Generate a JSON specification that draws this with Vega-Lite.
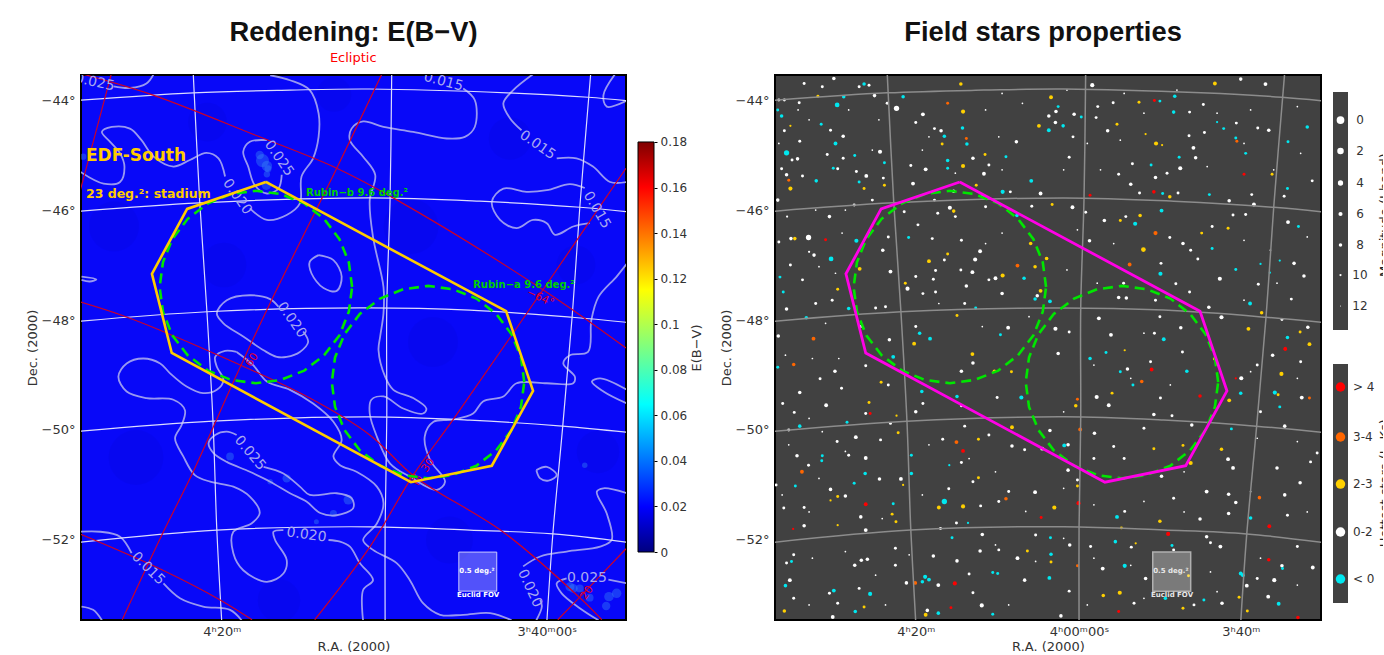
{"$schema":"https://vega.github.io/schema/vega-lite/v6.json","padding":{"left":25,"top":17,"right":0,"bottom":0},"bounds":"flush","spacing":12,"background":"white",
"config":{"font":"DejaVu Sans","axis":{"grid":false,"domain":false,"ticks":false,"labelFont":"DejaVu Sans","titleFont":"DejaVu Sans","labelFontSize":13,"titleFontSize":13,"titleFontWeight":"normal","labelColor":"#333","titleColor":"#333"},"title":{"font":"Liberation Sans","fontSize":27.3,"fontWeight":"bold","color":"#111","anchor":"middle"}},
"datasets":{
"grid":[
{"id":"d44","x":-0.1,"y":-44.01},{"id":"d44","x":2.04,"y":-43.87},{"id":"d44","x":3.8,"y":-43.82},{"id":"d44","x":5.25,"y":-43.8},{"id":"d44","x":7.75,"y":-43.87},{"id":"d44","x":9.22,"y":-43.95},{"id":"d44","x":10,"y":-44.02},
{"id":"d46","x":-0.1,"y":-46.03},{"id":"d46","x":2.16,"y":-45.87},{"id":"d46","x":5.25,"y":-45.78},{"id":"d46","x":7.25,"y":-45.84},{"id":"d46","x":9.07,"y":-45.95},{"id":"d46","x":10,"y":-46.04},
{"id":"d48","x":-0.1,"y":-48.03},{"id":"d48","x":2.29,"y":-47.85},{"id":"d48","x":5.07,"y":-47.78},{"id":"d48","x":7.07,"y":-47.82},{"id":"d48","x":8.93,"y":-47.95},{"id":"d48","x":10,"y":-48.05},
{"id":"d50","x":-0.1,"y":-50.03},{"id":"d50","x":2.4,"y":-49.84},{"id":"d50","x":5.25,"y":-49.76},{"id":"d50","x":7.07,"y":-49.82},{"id":"d50","x":8.75,"y":-49.93},{"id":"d50","x":10,"y":-50.05},
{"id":"d52","x":-0.1,"y":-52.05},{"id":"d52","x":2.47,"y":-51.82},{"id":"d52","x":5.25,"y":-51.76},{"id":"d52","x":7.07,"y":-51.82},{"id":"d52","x":8.58,"y":-51.89},{"id":"d52","x":10,"y":-52.05},
{"id":"r20","x":2.04,"y":-43.5},{"id":"r20","x":2.16,"y":-45.87},{"id":"r20","x":2.29,"y":-47.85},{"id":"r20","x":2.4,"y":-49.84},{"id":"r20","x":2.47,"y":-51.82},{"id":"r20","x":2.56,"y":-53.5},
{"id":"r00","x":5.65,"y":-43.5},{"id":"r00","x":5.62,"y":-45.8},{"id":"r00","x":5.56,"y":-47.78},{"id":"r00","x":5.56,"y":-49.78},{"id":"r00","x":5.53,"y":-51.76},{"id":"r00","x":5.53,"y":-53.5},
{"id":"r40","x":9.27,"y":-43.5},{"id":"r40","x":9.07,"y":-45.95},{"id":"r40","x":8.93,"y":-47.95},{"id":"r40","x":8.76,"y":-49.93},{"id":"r40","x":8.58,"y":-51.89},{"id":"r40","x":8.47,"y":-53.5}],
"ecl":[
{"id":"A","x":0.04,"y":-43.53},{"id":"A","x":1.31,"y":-43.91},{"id":"A","x":3.2,"y":-44.65},{"id":"A","x":4.65,"y":-45.24},{"id":"A","x":5.75,"y":-45.82},{"id":"A","x":8.4,"y":-47.45},{"id":"A","x":9.91,"y":-48.51},
{"id":"B","x":-0.02,"y":-47.67},{"id":"B","x":0.84,"y":-47.95},{"id":"B","x":2.29,"y":-48.55},{"id":"B","x":4.16,"y":-49.42},{"id":"B","x":5.25,"y":-50.09},{"id":"B","x":6.07,"y":-50.85},{"id":"B","x":7.67,"y":-51.85},{"id":"B","x":9.07,"y":-53.05},{"id":"B","x":9.47,"y":-53.45},
{"id":"C","x":-0.02,"y":-51.89},{"id":"C","x":1.49,"y":-52.55},{"id":"C","x":2.53,"y":-53.09},{"id":"C","x":3.11,"y":-53.45},
{"id":"D","x":-0.02,"y":-45.67},{"id":"D","x":0.55,"y":-43.53},
{"id":"E","x":5.47,"y":-43.53},{"id":"E","x":4.65,"y":-45.24},{"id":"E","x":3.44,"y":-47.69},{"id":"E","x":2.76,"y":-49.15},{"id":"E","x":2.04,"y":-50.76},{"id":"E","x":1.49,"y":-51.87},{"id":"E","x":0.75,"y":-53.45},
{"id":"F","x":9.91,"y":-45.24},{"id":"F","x":8.4,"y":-47.45},{"id":"F","x":6.76,"y":-49.82},{"id":"F","x":6.04,"y":-50.82},{"id":"F","x":5.25,"y":-52.13},{"id":"F","x":4.25,"y":-53.45},
{"id":"G","x":9.91,"y":-52.16},{"id":"G","x":9.07,"y":-53.04},{"id":"G","x":8.67,"y":-53.45}],
"stadium":[{"x":3.36,"y":-45.49},{"x":1.93,"y":-45.98},{"x":1.29,"y":-47.16},{"x":1.65,"y":-48.6},{"x":6.0,"y":-50.95},{"x":7.47,"y":-50.65},{"x":8.22,"y":-49.29},{"x":7.73,"y":-47.84},{"x":3.36,"y":-45.49}],
"rubin":[
{"id":"b","x":4.93,"y":-47.4},{"id":"b","x":4.87,"y":-46.95},{"id":"b","x":4.7,"y":-46.53},{"id":"b","x":4.42,"y":-46.16},{"id":"b","x":4.06,"y":-45.88},{"id":"b","x":3.63,"y":-45.71},{"id":"b","x":3.18,"y":-45.65},{"id":"b","x":2.73,"y":-45.71},{"id":"b","x":2.31,"y":-45.88},{"id":"b","x":1.94,"y":-46.16},{"id":"b","x":1.66,"y":-46.53},{"id":"b","x":1.49,"y":-46.95},{"id":"b","x":1.43,"y":-47.4},{"id":"b","x":1.49,"y":-47.85},{"id":"b","x":1.66,"y":-48.28},{"id":"b","x":1.94,"y":-48.64},{"id":"b","x":2.31,"y":-48.92},{"id":"b","x":2.73,"y":-49.09},{"id":"b","x":3.18,"y":-49.15},{"id":"b","x":3.63,"y":-49.09},{"id":"b","x":4.06,"y":-48.92},{"id":"b","x":4.42,"y":-48.64},{"id":"b","x":4.7,"y":-48.28},{"id":"b","x":4.87,"y":-47.85},{"id":"b","x":4.93,"y":-47.4},
{"id":"a","x":8.06,"y":-49.13},{"id":"a","x":8.0,"y":-48.68},{"id":"a","x":7.83,"y":-48.26},{"id":"a","x":7.55,"y":-47.89},{"id":"a","x":7.19,"y":-47.61},{"id":"a","x":6.76,"y":-47.44},{"id":"a","x":6.31,"y":-47.38},{"id":"a","x":5.86,"y":-47.44},{"id":"a","x":5.44,"y":-47.61},{"id":"a","x":5.07,"y":-47.89},{"id":"a","x":4.79,"y":-48.26},{"id":"a","x":4.62,"y":-48.68},{"id":"a","x":4.56,"y":-49.13},{"id":"a","x":4.62,"y":-49.58},{"id":"a","x":4.79,"y":-50.0},{"id":"a","x":5.07,"y":-50.37},{"id":"a","x":5.44,"y":-50.65},{"id":"a","x":5.86,"y":-50.82},{"id":"a","x":6.31,"y":-50.88},{"id":"a","x":6.76,"y":-50.82},{"id":"a","x":7.19,"y":-50.65},{"id":"a","x":7.55,"y":-50.37},{"id":"a","x":7.83,"y":-50.0},{"id":"a","x":8.0,"y":-49.58},{"id":"a","x":8.06,"y":-49.13}],
"contour":[
{"id":1,"x":0.59,"y":-43.75},{"id":1,"x":0.89,"y":-43.78},{"id":1,"x":1.19,"y":-43.7},{"id":1,"x":1.32,"y":-43.53},
{"id":2,"x":-0.02,"y":-45.3},{"id":2,"x":0.41,"y":-45.52},{"id":2,"x":0.71,"y":-45.49},{"id":2,"x":0.79,"y":-45.21},{"id":2,"x":0.71,"y":-44.97},{"id":2,"x":0.53,"y":-44.76},{"id":2,"x":0.38,"y":-44.58},{"id":2,"x":0.56,"y":-44.49},{"id":2,"x":0.89,"y":-44.52},{"id":2,"x":1.1,"y":-44.73},{"id":2,"x":1.32,"y":-45.03},{"id":2,"x":1.68,"y":-45.21},{"id":2,"x":1.98,"y":-45.09},{"id":2,"x":2.28,"y":-44.96},{"id":2,"x":2.5,"y":-45.06},{"id":2,"x":2.62,"y":-45.39},
{"id":3,"x":3.07,"y":-45.97},{"id":3,"x":3.38,"y":-46.18},{"id":3,"x":3.74,"y":-46.09},{"id":3,"x":3.98,"y":-45.88},{"id":3,"x":4.01,"y":-45.39},{"id":3,"x":4.22,"y":-45.06},{"id":3,"x":4.32,"y":-44.67},{"id":3,"x":4.32,"y":-44.24},{"id":3,"x":4.16,"y":-43.82},{"id":3,"x":3.8,"y":-43.64},{"id":3,"x":3.44,"y":-43.55},
{"id":4,"x":3.38,"y":-44.73},{"id":4,"x":3.07,"y":-44.76},{"id":4,"x":2.95,"y":-44.94},{"id":4,"x":3.04,"y":-45.21},{"id":4,"x":3.16,"y":-45.55},{"id":4,"x":3.38,"y":-45.7},{"id":4,"x":3.59,"y":-45.61},{"id":4,"x":3.65,"y":-45.36},
{"id":5,"x":0.01,"y":-47.21},{"id":5,"x":0.28,"y":-47.26},{"id":5,"x":0.16,"y":-47.3},{"id":5,"x":0.01,"y":-47.27},
{"id":6,"x":4.32,"y":-46.82},{"id":6,"x":4.16,"y":-46.94},{"id":6,"x":4.19,"y":-47.15},{"id":6,"x":4.41,"y":-47.42},{"id":6,"x":4.65,"y":-47.47},{"id":6,"x":4.74,"y":-47.21},{"id":6,"x":4.59,"y":-46.91},{"id":6,"x":4.32,"y":-46.82},
{"id":7,"x":3.59,"y":-47.76},{"id":7,"x":3.44,"y":-47.62},{"id":7,"x":3.07,"y":-47.55},{"id":7,"x":2.65,"y":-47.64},{"id":7,"x":2.47,"y":-47.88},{"id":7,"x":2.59,"y":-48.06},{"id":7,"x":2.95,"y":-48.3},{"id":7,"x":3.32,"y":-48.55},{"id":7,"x":3.56,"y":-48.67},{"id":7,"x":3.74,"y":-48.67},{"id":7,"x":3.98,"y":-48.58},{"id":7,"x":4.13,"y":-48.4},{"id":7,"x":4.04,"y":-48.21},
{"id":8,"x":2.83,"y":-48.58},{"id":8,"x":2.62,"y":-48.56},{"id":8,"x":2.44,"y":-48.67},{"id":8,"x":2.47,"y":-48.85},{"id":8,"x":2.59,"y":-49.09},{"id":8,"x":2.47,"y":-49.27},{"id":8,"x":2.22,"y":-49.33},{"id":8,"x":1.92,"y":-49.21},{"id":8,"x":1.62,"y":-48.97},{"id":8,"x":1.44,"y":-48.79},{"id":8,"x":1.13,"y":-48.7},{"id":8,"x":0.83,"y":-48.79},{"id":8,"x":0.68,"y":-49.03},{"id":8,"x":0.83,"y":-49.3},{"id":8,"x":1.19,"y":-49.42},{"id":8,"x":1.68,"y":-49.45},{"id":8,"x":1.89,"y":-49.64},{"id":8,"x":1.83,"y":-49.91},{"id":8,"x":1.71,"y":-50.15},{"id":8,"x":1.86,"y":-50.48},{"id":8,"x":2.07,"y":-50.82},{"id":8,"x":2.35,"y":-50.94},{"id":8,"x":2.77,"y":-51.03},{"id":8,"x":3.07,"y":-51.21},{"id":8,"x":3.25,"y":-51.51},{"id":8,"x":3.1,"y":-51.7},{"id":8,"x":2.77,"y":-51.85},{"id":8,"x":2.77,"y":-52.24},{"id":8,"x":2.95,"y":-52.55},{"id":8,"x":3.38,"y":-52.76},{"id":8,"x":3.68,"y":-52.61},{"id":8,"x":3.74,"y":-52.36},{"id":8,"x":3.53,"y":-52.0},{"id":8,"x":3.5,"y":-51.85},{"id":8,"x":3.68,"y":-51.82},
{"id":9,"x":4.5,"y":-52.0},{"id":9,"x":4.71,"y":-52.03},{"id":9,"x":4.89,"y":-52.12},{"id":9,"x":5.07,"y":-52.42},{"id":9,"x":5.31,"y":-52.73},{"id":9,"x":5.13,"y":-52.91},{"id":9,"x":5.13,"y":-53.46},
{"id":10,"x":2.83,"y":-50.09},{"id":10,"x":2.65,"y":-50.03},{"id":10,"x":2.44,"y":-50.09},{"id":10,"x":2.32,"y":-50.24},{"id":10,"x":2.41,"y":-50.42},{"id":10,"x":2.65,"y":-50.58},{"id":10,"x":3.07,"y":-50.76},{"id":10,"x":3.44,"y":-50.94},{"id":10,"x":3.8,"y":-51.15},{"id":10,"x":4.1,"y":-51.3},{"id":10,"x":4.35,"y":-51.51},{"id":10,"x":4.65,"y":-51.55},{"id":10,"x":4.95,"y":-51.42},{"id":10,"x":4.92,"y":-51.24},{"id":10,"x":4.65,"y":-51.15},{"id":10,"x":4.16,"y":-51.18},{"id":10,"x":3.98,"y":-51.03},{"id":10,"x":3.68,"y":-50.79},{"id":10,"x":3.32,"y":-50.67},
{"id":11,"x":2.83,"y":-48.58},{"id":11,"x":3.13,"y":-48.82},{"id":11,"x":3.38,"y":-49.12},{"id":11,"x":3.8,"y":-49.27},{"id":11,"x":4.22,"y":-49.52},{"id":11,"x":4.59,"y":-49.85},{"id":11,"x":4.74,"y":-50.18},{"id":11,"x":4.59,"y":-50.48},{"id":11,"x":4.71,"y":-50.64},{"id":11,"x":5.01,"y":-50.76},{"id":11,"x":5.38,"y":-51.03},{"id":11,"x":5.5,"y":-51.33},{"id":11,"x":5.38,"y":-51.7},{"id":11,"x":5.13,"y":-52.0},{"id":11,"x":5.31,"y":-52.18},{"id":11,"x":5.74,"y":-52.42},{"id":11,"x":5.98,"y":-52.73},{"id":11,"x":6.22,"y":-53.15},{"id":11,"x":6.53,"y":-53.36},{"id":11,"x":6.95,"y":-53.36},{"id":11,"x":7.44,"y":-53.33},{"id":11,"x":7.83,"y":-53.46},
{"id":13,"x":-0.02,"y":-51.85},{"id":13,"x":0.35,"y":-51.85},{"id":13,"x":0.71,"y":-51.94},{"id":13,"x":0.92,"y":-52.24},
{"id":14,"x":1.5,"y":-52.79},{"id":14,"x":1.8,"y":-53.06},{"id":14,"x":2.22,"y":-53.21},{"id":14,"x":2.71,"y":-53.27},{"id":14,"x":2.92,"y":-53.46},
{"id":15,"x":0.01,"y":-53.21},{"id":15,"x":0.22,"y":-53.27},{"id":15,"x":0.38,"y":-53.46},
{"id":18,"x":6.95,"y":-43.79},{"id":18,"x":7.16,"y":-44.0},{"id":18,"x":7.16,"y":-44.49},{"id":18,"x":6.98,"y":-44.67},{"id":18,"x":6.65,"y":-44.7},{"id":18,"x":6.04,"y":-44.58},{"id":18,"x":5.5,"y":-44.49},{"id":18,"x":5.13,"y":-44.39},{"id":18,"x":4.92,"y":-44.52},{"id":18,"x":4.89,"y":-44.73},{"id":18,"x":5.13,"y":-45.03},{"id":18,"x":5.35,"y":-45.36},{"id":18,"x":5.25,"y":-45.82},{"id":18,"x":5.31,"y":-46.49},{"id":18,"x":5.5,"y":-47.4},{"id":18,"x":5.5,"y":-47.88},{"id":18,"x":5.44,"y":-48.3},{"id":18,"x":5.41,"y":-48.55},{"id":18,"x":5.53,"y":-49.03},{"id":18,"x":5.68,"y":-49.27},{"id":18,"x":6.04,"y":-49.42},{"id":18,"x":6.28,"y":-49.61},{"id":18,"x":6.22,"y":-49.7},{"id":18,"x":5.86,"y":-49.61},{"id":18,"x":5.5,"y":-49.39},{"id":18,"x":5.28,"y":-49.45},{"id":18,"x":5.25,"y":-49.7},{"id":18,"x":5.38,"y":-50.12},{"id":18,"x":5.62,"y":-50.61},{"id":18,"x":5.98,"y":-50.85},{"id":18,"x":6.47,"y":-51.09},{"id":18,"x":6.62,"y":-50.94},{"id":18,"x":6.35,"y":-50.55},{"id":18,"x":6.25,"y":-50.12},{"id":18,"x":6.41,"y":-49.85},{"id":18,"x":6.77,"y":-49.81},{"id":18,"x":7.13,"y":-49.7},{"id":18,"x":7.31,"y":-49.48},{"id":18,"x":7.68,"y":-49.39},{"id":18,"x":7.92,"y":-49.15},{"id":18,"x":8.47,"y":-49.15},{"id":18,"x":8.95,"y":-49.15},{"id":18,"x":8.98,"y":-49.03},{"id":18,"x":8.77,"y":-48.79},{"id":18,"x":8.89,"y":-48.64},{"id":18,"x":9.22,"y":-48.58},{"id":18,"x":9.28,"y":-48.0},{"id":18,"x":9.41,"y":-47.58},{"id":18,"x":9.74,"y":-47.21},{"id":18,"x":9.93,"y":-46.97},
{"id":19,"x":8.22,"y":-43.53},{"id":19,"x":7.86,"y":-43.82},{"id":19,"x":7.68,"y":-44.06},{"id":19,"x":7.8,"y":-44.33},{"id":19,"x":8.01,"y":-44.55},
{"id":190,"x":8.65,"y":-45.06},{"id":190,"x":9.01,"y":-45.06},{"id":190,"x":9.31,"y":-45.21},{"id":190,"x":9.62,"y":-45.49},{"id":190,"x":9.93,"y":-45.49},
{"id":20,"x":9.71,"y":-43.53},{"id":20,"x":9.5,"y":-43.91},{"id":20,"x":9.56,"y":-44.12},{"id":20,"x":9.93,"y":-44.01},
{"id":21,"x":9.16,"y":-45.6},{"id":21,"x":8.89,"y":-45.53},{"id":21,"x":8.47,"y":-45.64},{"id":21,"x":8.1,"y":-45.67},{"id":21,"x":7.68,"y":-45.61},{"id":21,"x":7.47,"y":-45.85},{"id":21,"x":7.62,"y":-46.18},{"id":21,"x":7.92,"y":-46.33},{"id":21,"x":8.22,"y":-46.18},{"id":21,"x":8.47,"y":-46.24},{"id":21,"x":8.62,"y":-46.45},{"id":21,"x":8.95,"y":-46.3},{"id":21,"x":9.25,"y":-46.24},
{"id":22,"x":8.28,"y":-50.73},{"id":22,"x":8.47,"y":-50.67},{"id":22,"x":8.65,"y":-50.82},{"id":22,"x":8.5,"y":-50.92},{"id":22,"x":8.35,"y":-50.88},{"id":22,"x":8.28,"y":-50.73},
{"id":23,"x":9.93,"y":-49.27},{"id":23,"x":9.44,"y":-49.06},{"id":23,"x":9.29,"y":-49.12},{"id":23,"x":9.5,"y":-49.3},{"id":23,"x":9.93,"y":-49.52},
{"id":24,"x":9.93,"y":-51.15},{"id":24,"x":9.5,"y":-51.06},{"id":24,"x":9.38,"y":-51.12},{"id":24,"x":9.56,"y":-51.52},{"id":24,"x":9.65,"y":-52.0},{"id":24,"x":9.44,"y":-52.12},{"id":24,"x":8.83,"y":-52.21},{"id":24,"x":8.35,"y":-52.3},{"id":24,"x":8.04,"y":-52.48},
{"id":25,"x":8.35,"y":-53.09},{"id":25,"x":8.38,"y":-53.21},{"id":25,"x":8.28,"y":-53.46},
{"id":26,"x":8.83,"y":-52.7},{"id":26,"x":8.65,"y":-52.79},{"id":26,"x":8.74,"y":-52.97},{"id":26,"x":9.07,"y":-53.24},{"id":26,"x":9.41,"y":-53.46},
{"id":27,"x":9.59,"y":-52.72},{"id":27,"x":9.93,"y":-52.79}],
"clabels":[
{"x":0.25,"y":-43.68,"t":"0.025","a":12},{"x":3.6,"y":-45.06,"t":"0.025","a":55},{"x":2.84,"y":-45.76,"t":"0.020","a":55},{"x":3.83,"y":-48.0,"t":"0.020","a":55},{"x":6.59,"y":-43.67,"t":"0.015","a":15},{"x":8.3,"y":-44.82,"t":"0.015","a":35},{"x":9.38,"y":-46.0,"t":"0.015","a":60},{"x":3.07,"y":-50.42,"t":"0.025","a":50},{"x":4.1,"y":-51.91,"t":"0.020","a":8},{"x":1.22,"y":-52.52,"t":"0.015","a":45},{"x":8.16,"y":-52.88,"t":"0.020","a":65},{"x":9.2,"y":-52.7,"t":"0.025","a":0}],
"dark":[{"x":0.6,"y":-46.3,"s":2500},{"x":1.0,"y":-50.5,"s":3000},{"x":2.3,"y":-44.4,"s":1500},{"x":2.6,"y":-47.0,"s":2000},{"x":6.0,"y":-46.3,"s":3000},{"x":6.4,"y":-48.4,"s":2500},{"x":7.8,"y":-44.7,"s":1800},{"x":6.7,"y":-52.0,"s":2200},{"x":3.6,"y":-53.1,"s":1800},{"x":9.4,"y":-50.4,"s":1800},{"x":9.0,"y":-47.0,"s":1500},{"x":4.6,"y":-43.9,"s":1200}],
"dust":[{"x":3.3,"y":-45.1,"s":170},{"x":3.38,"y":-45.2,"s":110},{"x":3.25,"y":-45.0,"s":70},{"x":3.37,"y":-45.55,"s":90},{"x":3.4,"y":-45.25,"s":50},{"x":3.38,"y":-45.35,"s":40},{"x":2.71,"y":-50.48,"s":60},{"x":3.74,"y":-50.88,"s":70},{"x":3.44,"y":-50.94,"s":30},{"x":4.86,"y":-51.27,"s":90},{"x":4.59,"y":-51.52,"s":50},{"x":4.28,"y":-51.67,"s":25},{"x":9.16,"y":-50.64,"s":30},{"x":8.89,"y":-52.85,"s":80},{"x":8.95,"y":-52.88,"s":80},{"x":9.07,"y":-52.88,"s":60},{"x":9.25,"y":-53.05,"s":60},{"x":9.6,"y":-53.03,"s":90},{"x":9.74,"y":-52.97,"s":90},{"x":9.55,"y":-53.2,"s":70},{"x":0.04,"y":-45.03,"s":40}],
"stars":[
{"x":1.13,"y":-44.09,"m":5,"c":0},{"x":0.21,"y":-44.96,"m":4,"c":0},{"x":1.1,"y":-44.79,"m":7,"c":0},{"x":1.02,"y":-46.89,"m":5,"c":0},{"x":1.48,"y":-46.56,"m":6,"c":0},{"x":4.14,"y":-45.67,"m":6,"c":0},{"x":4.66,"y":-45.47,"m":7,"c":0},{"x":3.14,"y":-45.1,"m":8,"c":0},{"x":3.41,"y":-44.51,"m":8,"c":0},{"x":3.08,"y":-44.66,"m":8,"c":0},{"x":3.49,"y":-44.8,"m":8,"c":0},{"x":1.62,"y":-43.71,"m":8,"c":0},{"x":1.25,"y":-43.94,"m":8,"c":0},{"x":2.33,"y":-43.94,"m":8,"c":0},{"x":0.12,"y":-44.29,"m":8,"c":0},{"x":0.84,"y":-44.44,"m":9,"c":0},{"x":0.75,"y":-45.47,"m":8,"c":0},{"x":1.99,"y":-45.14,"m":9,"c":0},{"x":1.45,"y":-45.01,"m":9,"c":0},{"x":1.53,"y":-45.49,"m":9,"c":0},{"x":1.06,"y":-45.24,"m":9,"c":0},{"x":0.15,"y":-47.49,"m":9,"c":0},{"x":1.34,"y":-47.79,"m":8,"c":0},{"x":0.57,"y":-47.96,"m":8,"c":0},{"x":2.82,"y":-48.34,"m":7,"c":0},{"x":2.63,"y":-48.24,"m":8,"c":0},{"x":4.1,"y":-48.27,"m":9,"c":0},{"x":3.65,"y":-47.78,"m":9,"c":0},{"x":4.53,"y":-47.24,"m":8,"c":0},{"x":4.4,"y":-46.1,"m":8,"c":0},{"x":2.43,"y":-46.5,"m":9,"c":0},{"x":4.73,"y":-47.62,"m":8,"c":0},{"x":0.05,"y":-44.18,"m":9,"c":0},{"x":4.2,"y":-45.03,"m":9,"c":0},{"x":0.09,"y":-47.22,"m":9,"c":0},{"x":3.14,"y":-45.24,"m":9,"c":0},
{"x":3.42,"y":-44.21,"m":6,"c":2},{"x":3.38,"y":-43.71,"m":8,"c":2},{"x":4.8,"y":-44.47,"m":7,"c":2},{"x":0.28,"y":-45.61,"m":6,"c":2},{"x":3.42,"y":-45.2,"m":6,"c":2},{"x":1.99,"y":-45.55,"m":9,"c":2},{"x":1.62,"y":-45.61,"m":9,"c":2},{"x":0.28,"y":-44.47,"m":10,"c":2},{"x":3.04,"y":-44.8,"m":9,"c":2},{"x":0.78,"y":-43.93,"m":9,"c":2},{"x":3.66,"y":-45.55,"m":9,"c":2},{"x":3.25,"y":-46.02,"m":8,"c":2},{"x":0.36,"y":-46.52,"m":8,"c":2},{"x":2.8,"y":-46.93,"m":7,"c":2},{"x":1.54,"y":-47.07,"m":7,"c":2},{"x":3.14,"y":-46.8,"m":9,"c":2},{"x":4.14,"y":-47.19,"m":6,"c":2},{"x":4.83,"y":-47.47,"m":7,"c":2},{"x":4.65,"y":-46.61,"m":8,"c":2},{"x":4.73,"y":-47.03,"m":8,"c":2},{"x":1.14,"y":-47.44,"m":9,"c":2},{"x":2.37,"y":-47.33,"m":9,"c":2},{"x":3.31,"y":-47.92,"m":9,"c":2},{"x":2.53,"y":-48.43,"m":7,"c":2},{"x":4.94,"y":-46.88,"m":8,"c":2},{"x":3.82,"y":-44.99,"m":9,"c":2},
{"x":3.14,"y":-44.06,"m":9,"c":3},{"x":3.48,"y":-44.7,"m":9,"c":3},{"x":0.25,"y":-45.46,"m":9,"c":3},{"x":4.41,"y":-47.01,"m":7,"c":3},{"x":0.7,"y":-48.34,"m":7,"c":3},{"x":0.92,"y":-46.54,"m":9,"c":4},{"x":1.77,"y":-46.29,"m":9,"c":4},
{"x":2.21,"y":-44.15,"m":4,"c":1},{"x":1.91,"y":-44.94,"m":6,"c":1},{"x":0.61,"y":-46.5,"m":4,"c":1},{"x":2.51,"y":-45.52,"m":7,"c":1},{"x":3.18,"y":-45.96,"m":6,"c":1},{"x":3.73,"y":-46.75,"m":7,"c":1},{"x":3.64,"y":-46.9,"m":6,"c":1},{"x":2.41,"y":-47.43,"m":6,"c":1},{"x":3.59,"y":-47.13,"m":7,"c":1},{"x":4.01,"y":-47.24,"m":7,"c":1},{"x":2.1,"y":-47.12,"m":7,"c":1},{"x":1.07,"y":-43.61,"m":8,"c":1},{"x":1.81,"y":-43.92,"m":8,"c":1},{"x":2.69,"y":-44.26,"m":7,"c":1},{"x":3.02,"y":-44.56,"m":8,"c":1},{"x":1.24,"y":-44.66,"m":8,"c":1},{"x":0.41,"y":-45.07,"m":8,"c":1},{"x":0.31,"y":-45.09,"m":9,"c":1},{"x":0.21,"y":-45.36,"m":8,"c":1},{"x":0.05,"y":-45.82,"m":8,"c":1},{"x":1.66,"y":-45.38,"m":7,"c":1},{"x":2.74,"y":-45.26,"m":7,"c":1},{"x":3.8,"y":-45.34,"m":7,"c":1},{"x":3.6,"y":-45.06,"m":8,"c":1},{"x":4.39,"y":-44.76,"m":8,"c":1},{"x":4.83,"y":-45.7,"m":7,"c":1},{"x":0.99,"y":-46.12,"m":8,"c":1},{"x":0.71,"y":-46.82,"m":8,"c":1},{"x":0.29,"y":-46.52,"m":8,"c":1},{"x":0.21,"y":-47.8,"m":8,"c":1},{"x":0.06,"y":-48.29,"m":8,"c":1},{"x":1.96,"y":-46.73,"m":8,"c":1},{"x":3.48,"y":-47.38,"m":8,"c":1},{"x":4.13,"y":-47.52,"m":8,"c":1},{"x":4.24,"y":-48.14,"m":7,"c":1},{"x":4.77,"y":-47.56,"m":8,"c":1},{"x":2.08,"y":-48.36,"m":8,"c":1},{"x":0.07,"y":-44.0,"m":9,"c":1},{"x":0.17,"y":-44.0,"m":9,"c":1},{"x":0.44,"y":-44.05,"m":9,"c":1},{"x":0.53,"y":-43.7,"m":9,"c":1},{"x":0.86,"y":-43.76,"m":9,"c":1},{"x":1.53,"y":-43.76,"m":9,"c":1},{"x":1.71,"y":-43.73,"m":9,"c":1},{"x":2.04,"y":-44.06,"m":9,"c":1},{"x":1.01,"y":-44.55,"m":9,"c":1},{"x":0.45,"y":-44.75,"m":9,"c":1},{"x":0.17,"y":-44.56,"m":9,"c":1},{"x":0.95,"y":-44.99,"m":9,"c":1},{"x":1.24,"y":-45.06,"m":9,"c":1},{"x":1.48,"y":-45.3,"m":9,"c":1},{"x":1.14,"y":-45.25,"m":9,"c":1},{"x":0.12,"y":-45.25,"m":9,"c":1},{"x":0.5,"y":-45.38,"m":9,"c":1},{"x":1.97,"y":-45.42,"m":9,"c":1},{"x":2.47,"y":-45.19,"m":9,"c":1},{"x":2.9,"y":-44.52,"m":9,"c":1},{"x":3.89,"y":-45.18,"m":9,"c":1},{"x":2.56,"y":-44.41,"m":9,"c":1},{"x":3.25,"y":-45.66,"m":8,"c":1},{"x":2.9,"y":-45.82,"m":9,"c":1},{"x":1.77,"y":-45.82,"m":9,"c":1},{"x":1.44,"y":-45.91,"m":9,"c":1},{"x":4.67,"y":-45.93,"m":9,"c":1},{"x":3.77,"y":-45.76,"m":9,"c":1},{"x":4.28,"y":-45.67,"m":9,"c":1},{"x":3.83,"y":-45.94,"m":9,"c":1},{"x":2.96,"y":-46.06,"m":9,"c":1},{"x":2.6,"y":-46.27,"m":9,"c":1},{"x":2.35,"y":-46.03,"m":9,"c":1},{"x":2.06,"y":-46.49,"m":9,"c":1},{"x":1.7,"y":-46.42,"m":9,"c":1},{"x":3.28,"y":-46.12,"m":9,"c":1},{"x":3.39,"y":-46.55,"m":9,"c":1},{"x":2.86,"y":-46.52,"m":9,"c":1},{"x":3.08,"y":-46.91,"m":9,"c":1},{"x":3.38,"y":-47.09,"m":9,"c":1},{"x":3.89,"y":-47.27,"m":9,"c":1},{"x":2.92,"y":-47.1,"m":9,"c":1},{"x":2.88,"y":-47.26,"m":9,"c":1},{"x":2.56,"y":-47.21,"m":9,"c":1},{"x":2.69,"y":-47.52,"m":9,"c":1},{"x":2.92,"y":-47.49,"m":9,"c":1},{"x":3.45,"y":-47.7,"m":9,"c":1},{"x":2.56,"y":-48.12,"m":9,"c":1},{"x":2.01,"y":-47.76,"m":9,"c":1},{"x":1.83,"y":-47.78,"m":9,"c":1},{"x":1.56,"y":-48.12,"m":9,"c":1},{"x":1.04,"y":-47.64,"m":9,"c":1},{"x":0.74,"y":-47.7,"m":9,"c":1},{"x":0.5,"y":-47.27,"m":9,"c":1},{"x":0.28,"y":-47.0,"m":9,"c":1},{"x":0.07,"y":-46.58,"m":9,"c":1},{"x":0.22,"y":-46.12,"m":10,"c":1},{"x":0.62,"y":-46.76,"m":10,"c":1},
{"x":5.77,"y":-43.73,"m":6,"c":1},{"x":8.92,"y":-43.71,"m":7,"c":1},{"x":8.47,"y":-43.62,"m":8,"c":1},{"x":5.11,"y":-44.21,"m":8,"c":1},{"x":4.98,"y":-44.29,"m":8,"c":1},{"x":5.44,"y":-44.26,"m":8,"c":1},{"x":5.1,"y":-44.41,"m":8,"c":1},{"x":5.87,"y":-44.12,"m":9,"c":1},{"x":6.15,"y":-44.05,"m":9,"c":1},{"x":5.84,"y":-44.32,"m":9,"c":1},{"x":6.05,"y":-44.56,"m":8,"c":1},{"x":5.42,"y":-44.67,"m":9,"c":1},{"x":7.79,"y":-44.08,"m":9,"c":1},{"x":7.54,"y":-44.22,"m":9,"c":1},{"x":8.39,"y":-44.42,"m":9,"c":1},{"x":8.78,"y":-44.51,"m":9,"c":1},{"x":8.98,"y":-44.55,"m":8,"c":1},{"x":7.53,"y":-44.65,"m":9,"c":1},{"x":7.81,"y":-44.59,"m":9,"c":1},{"x":7.61,"y":-44.87,"m":7,"c":1},{"x":7.37,"y":-45.24,"m":6,"c":1},{"x":7.65,"y":-45.05,"m":8,"c":1},{"x":6.5,"y":-45.16,"m":9,"c":1},{"x":6.92,"y":-45.41,"m":8,"c":1},{"x":6.47,"y":-45.53,"m":8,"c":1},{"x":6.25,"y":-45.35,"m":9,"c":1},{"x":7.33,"y":-45.69,"m":9,"c":1},{"x":8.26,"y":-45.83,"m":8,"c":1},{"x":8.71,"y":-45.9,"m":7,"c":1},{"x":8.67,"y":-45.72,"m":9,"c":1},{"x":5.41,"y":-45.95,"m":7,"c":1},{"x":5.99,"y":-46.19,"m":8,"c":1},{"x":6.38,"y":-46.12,"m":9,"c":1},{"x":5.72,"y":-46.56,"m":8,"c":1},{"x":7.42,"y":-46.61,"m":8,"c":1},{"x":7.18,"y":-46.5,"m":9,"c":1},{"x":7.69,"y":-46.89,"m":9,"c":1},{"x":9.33,"y":-46.22,"m":7,"c":1},{"x":9.44,"y":-46.97,"m":8,"c":1},{"x":9.62,"y":-47.2,"m":8,"c":1},{"x":9.77,"y":-45.47,"m":9,"c":1},{"x":9.26,"y":-45.75,"m":9,"c":1},{"x":8.09,"y":-47.25,"m":6,"c":1},{"x":7.29,"y":-47.34,"m":9,"c":1},{"x":6.25,"y":-47.59,"m":8,"c":1},{"x":6.39,"y":-47.6,"m":8,"c":1},{"x":6.34,"y":-47.33,"m":9,"c":1},{"x":7.54,"y":-47.49,"m":9,"c":1},{"x":7.89,"y":-47.77,"m":8,"c":1},{"x":8.12,"y":-47.95,"m":6,"c":1},{"x":5.89,"y":-47.97,"m":7,"c":1},{"x":5.1,"y":-48.16,"m":6,"c":1},{"x":6.11,"y":-48.27,"m":7,"c":1},{"x":7.0,"y":-47.94,"m":9,"c":1},{"x":7.38,"y":-48.14,"m":8,"c":1},{"x":9.69,"y":-48.13,"m":8,"c":1},{"x":5.35,"y":-48.22,"m":9,"c":1},{"x":6.9,"y":-48.24,"m":9,"c":1},{"x":9.39,"y":-47.62,"m":9,"c":1},{"x":9.22,"y":-47.99,"m":9,"c":1},{"x":8.79,"y":-47.35,"m":9,"c":1},{"x":6.92,"y":-47.64,"m":9,"c":1},{"x":7.95,"y":-46.3,"m":9,"c":1},{"x":8.33,"y":-46.09,"m":9,"c":1},{"x":8.56,"y":-46.08,"m":9,"c":1},{"x":7.56,"y":-46.73,"m":9,"c":1},{"x":7.02,"y":-46.97,"m":9,"c":1},{"x":5.35,"y":-45.04,"m":9,"c":1},{"x":5.65,"y":-46.04,"m":9,"c":1},{"x":7.13,"y":-45.33,"m":9,"c":1},{"x":6.63,"y":-45.69,"m":9,"c":1},
{"x":4.98,"y":-44.55,"m":7,"c":0},{"x":5.24,"y":-44.47,"m":8,"c":0},{"x":7.27,"y":-43.93,"m":8,"c":0},{"x":7.0,"y":-44.02,"m":9,"c":0},{"x":7.25,"y":-44.22,"m":8,"c":0},{"x":5.57,"y":-44.31,"m":9,"c":0},{"x":9.68,"y":-44.49,"m":8,"c":0},{"x":8.38,"y":-44.69,"m":9,"c":0},{"x":8.04,"y":-44.4,"m":10,"c":0},{"x":8.16,"y":-44.52,"m":9,"c":0},{"x":7.35,"y":-45.04,"m":9,"c":0},{"x":6.84,"y":-45.18,"m":9,"c":0},{"x":7.9,"y":-45.72,"m":9,"c":0},{"x":7.05,"y":-45.7,"m":9,"c":0},{"x":7.03,"y":-46.01,"m":7,"c":0},{"x":6.55,"y":-46.25,"m":6,"c":0},{"x":7.95,"y":-46.7,"m":9,"c":0},{"x":7.01,"y":-47.16,"m":6,"c":0},{"x":8.38,"y":-47.08,"m":9,"c":0},{"x":8.83,"y":-46.98,"m":10,"c":0},{"x":8.64,"y":-47.7,"m":7,"c":0},{"x":7.07,"y":-48.35,"m":7,"c":0},{"x":5.0,"y":-47.66,"m":7,"c":0},{"x":9.33,"y":-44.76,"m":9,"c":0},{"x":8.56,"y":-44.97,"m":9,"c":0},{"x":9.52,"y":-46.3,"m":9,"c":0},{"x":9.18,"y":-46.92,"m":10,"c":0},{"x":9.0,"y":-47.14,"m":10,"c":0},{"x":9.32,"y":-48.32,"m":8,"c":0},{"x":9.32,"y":-45.61,"m":9,"c":0},{"x":5.15,"y":-44.12,"m":9,"c":0},
{"x":5.02,"y":-43.95,"m":7,"c":2},{"x":8.0,"y":-43.7,"m":7,"c":2},{"x":6.62,"y":-44.04,"m":9,"c":2},{"x":6.22,"y":-44.44,"m":9,"c":2},{"x":6.74,"y":-44.62,"m":10,"c":2},{"x":6.93,"y":-44.79,"m":6,"c":2},{"x":7.04,"y":-44.82,"m":10,"c":2},{"x":7.18,"y":-45.76,"m":8,"c":2},{"x":6.64,"y":-46.1,"m":8,"c":2},{"x":6.28,"y":-46.19,"m":9,"c":2},{"x":5.04,"y":-45.9,"m":9,"c":2},{"x":8.24,"y":-46.33,"m":9,"c":2},{"x":7.76,"y":-46.42,"m":9,"c":2},{"x":6.7,"y":-46.72,"m":5,"c":2},{"x":9.04,"y":-45.35,"m":9,"c":2},{"x":4.94,"y":-46.88,"m":9,"c":2},{"x":8.61,"y":-48.16,"m":7,"c":2},{"x":9.55,"y":-48.22,"m":9,"c":2},{"x":9.72,"y":-48.44,"m":7,"c":2},{"x":8.85,"y":-47.87,"m":8,"c":2},
{"x":6.92,"y":-46.42,"m":6,"c":3},{"x":6.45,"y":-46.99,"m":7,"c":3},{"x":8.4,"y":-44.75,"m":9,"c":3},{"x":6.9,"y":-44.01,"m":9,"c":4},{"x":8.53,"y":-45.35,"m":9,"c":4},{"x":6.89,"y":-45.67,"m":8,"c":4},{"x":5.73,"y":-45.73,"m":9,"c":4},{"x":9.28,"y":-48.52,"m":8,"c":4},
{"x":1.09,"y":-48.93,"m":8,"c":1},{"x":1.65,"y":-48.83,"m":9,"c":1},{"x":0.82,"y":-49.07,"m":9,"c":1},{"x":1.21,"y":-49.24,"m":9,"c":1},{"x":0.45,"y":-49.32,"m":8,"c":1},{"x":0.93,"y":-49.55,"m":7,"c":1},{"x":2.06,"y":-49.18,"m":9,"c":1},{"x":2.56,"y":-49.67,"m":8,"c":1},{"x":3.39,"y":-48.93,"m":8,"c":1},{"x":3.6,"y":-48.78,"m":8,"c":1},{"x":4.04,"y":-49.41,"m":9,"c":1},{"x":3.39,"y":-49.56,"m":9,"c":1},{"x":2.69,"y":-49.52,"m":9,"c":1},{"x":1.65,"y":-49.7,"m":9,"c":1},{"x":1.47,"y":-50.13,"m":7,"c":1},{"x":0.4,"y":-50.47,"m":8,"c":1},{"x":1.65,"y":-50.51,"m":7,"c":1},{"x":0.61,"y":-50.64,"m":9,"c":1},{"x":2.29,"y":-50.89,"m":7,"c":1},{"x":1.9,"y":-50.89,"m":8,"c":1},{"x":1.28,"y":-51.2,"m":8,"c":1},{"x":1.01,"y":-51.08,"m":8,"c":1},{"x":1.56,"y":-51.58,"m":8,"c":1},{"x":0.53,"y":-51.74,"m":8,"c":1},{"x":1.65,"y":-51.82,"m":7,"c":1},{"x":3.77,"y":-51.9,"m":8,"c":1},{"x":4.73,"y":-51.13,"m":7,"c":1},{"x":4.31,"y":-50.29,"m":8,"c":1},{"x":4.86,"y":-50.34,"m":7,"c":1},{"x":3.3,"y":-51.69,"m":9,"c":1},{"x":4.54,"y":-50.36,"m":9,"c":1},{"x":4.25,"y":-51.12,"m":9,"c":1},{"x":3.39,"y":-50.59,"m":9,"c":1},{"x":3.05,"y":-50.17,"m":9,"c":1},{"x":3.6,"y":-50.94,"m":9,"c":1},{"x":3.16,"y":-51.07,"m":9,"c":1},{"x":3.73,"y":-52.2,"m":8,"c":1},{"x":4.41,"y":-52.33,"m":7,"c":1},{"x":2.88,"y":-52.29,"m":8,"c":1},{"x":3.31,"y":-52.38,"m":8,"c":1},{"x":1.57,"y":-52.37,"m":8,"c":1},{"x":1.68,"y":-52.35,"m":8,"c":1},{"x":1.45,"y":-52.46,"m":8,"c":1},{"x":0.27,"y":-52.73,"m":7,"c":1},{"x":2.39,"y":-52.78,"m":8,"c":1},{"x":2.97,"y":-52.82,"m":7,"c":1},{"x":4.54,"y":-52.73,"m":8,"c":1},{"x":3.76,"y":-53.19,"m":6,"c":1},{"x":3.6,"y":-52.96,"m":9,"c":1},{"x":1.05,"y":-53.4,"m":7,"c":1},{"x":2.77,"y":-53.28,"m":8,"c":1},{"x":0.99,"y":-52.97,"m":9,"c":1},{"x":0.34,"y":-52.27,"m":9,"c":1},{"x":0.21,"y":-52.42,"m":9,"c":1},{"x":2.19,"y":-52.15,"m":9,"c":1},{"x":3.53,"y":-52.62,"m":9,"c":1},{"x":0.02,"y":-51.0,"m":9,"c":1},{"x":0.16,"y":-51.42,"m":9,"c":1},{"x":0.53,"y":-51.41,"m":9,"c":1},{"x":4.07,"y":-51.3,"m":9,"c":1},{"x":3.74,"y":-51.38,"m":9,"c":1},{"x":1.13,"y":-50.21,"m":9,"c":1},{"x":1.92,"y":-50.18,"m":9,"c":1},{"x":1.34,"y":-50.46,"m":9,"c":1},{"x":0.25,"y":-50.0,"m":9,"c":1},{"x":3.01,"y":-51.79,"m":9,"c":1},{"x":2.1,"y":-49.88,"m":9,"c":1},{"x":3.45,"y":-49.93,"m":9,"c":1},{"x":3.89,"y":-50.09,"m":9,"c":1},{"x":0.14,"y":-49.52,"m":9,"c":1},{"x":0.35,"y":-49.68,"m":9,"c":1},{"x":4.74,"y":-51.91,"m":9,"c":1},{"x":4.07,"y":-52.18,"m":9,"c":1},{"x":2.19,"y":-52.46,"m":9,"c":1},{"x":1.53,"y":-52.88,"m":9,"c":1},{"x":1.14,"y":-53.15,"m":9,"c":1},{"x":0.34,"y":-53.06,"m":9,"c":1},
{"x":3.08,"y":-51.3,"m":4,"c":0},{"x":2.73,"y":-52.67,"m":6,"c":0},{"x":2.8,"y":-52.72,"m":7,"c":0},{"x":2.68,"y":-52.76,"m":8,"c":0},{"x":1.73,"y":-52.98,"m":6,"c":0},{"x":1.07,"y":-52.92,"m":7,"c":0},{"x":1.64,"y":-50.79,"m":8,"c":0},{"x":2.48,"y":-50.79,"m":8,"c":0},{"x":2.15,"y":-48.67,"m":7,"c":0},{"x":2.67,"y":-49.3,"m":8,"c":0},{"x":3.31,"y":-49.39,"m":8,"c":0},{"x":4.48,"y":-49.41,"m":6,"c":0},{"x":0.45,"y":-49.93,"m":8,"c":0},{"x":1.31,"y":-49.86,"m":9,"c":0},{"x":0.05,"y":-48.86,"m":9,"c":0},{"x":0.86,"y":-50.47,"m":9,"c":0},{"x":0.85,"y":-50.56,"m":9,"c":0},{"x":1.44,"y":-50.97,"m":9,"c":0},{"x":2.15,"y":-51.34,"m":9,"c":0},{"x":1.46,"y":-53.3,"m":8,"c":0},{"x":2.97,"y":-53.33,"m":8,"c":0},{"x":0.19,"y":-52.83,"m":8,"c":0},{"x":4.05,"y":-52.61,"m":9,"c":0},{"x":3.96,"y":-52.59,"m":9,"c":0},{"x":3.22,"y":-51.96,"m":9,"c":0},{"x":0.37,"y":-51.02,"m":9,"c":0},{"x":2.48,"y":-50.46,"m":9,"c":0},{"x":0.3,"y":-52.39,"m":9,"c":0},{"x":3.96,"y":-53.35,"m":9,"c":0},{"x":3.51,"y":-51.69,"m":10,"c":0},{"x":3.17,"y":-50.64,"m":10,"c":0},
{"x":3.59,"y":-48.62,"m":7,"c":2},{"x":4.3,"y":-48.94,"m":9,"c":2},{"x":3.99,"y":-48.93,"m":8,"c":2},{"x":4.31,"y":-49.95,"m":7,"c":2},{"x":1.71,"y":-49.5,"m":9,"c":2},{"x":2.24,"y":-50.05,"m":9,"c":2},{"x":2.21,"y":-49.74,"m":10,"c":2},{"x":3.7,"y":-50.17,"m":9,"c":2},{"x":3.7,"y":-50.87,"m":9,"c":2},{"x":2.98,"y":-51.41,"m":7,"c":2},{"x":3.42,"y":-51.39,"m":6,"c":2},{"x":2.2,"y":-51.67,"m":9,"c":2},{"x":2.13,"y":-51.53,"m":9,"c":2},{"x":1.14,"y":-51.21,"m":9,"c":2},{"x":1.01,"y":-51.28,"m":10,"c":2},{"x":1.14,"y":-51.73,"m":10,"c":2},{"x":0.17,"y":-53.29,"m":8,"c":2},{"x":1.62,"y":-53.22,"m":9,"c":2},{"x":2.74,"y":-53.36,"m":7,"c":2},{"x":4.59,"y":-52.2,"m":9,"c":2},{"x":1.93,"y":-49.13,"m":9,"c":2},{"x":2.33,"y":-51.0,"m":10,"c":2},
{"x":0.34,"y":-48.81,"m":8,"c":3},{"x":0.49,"y":-50.76,"m":7,"c":3},{"x":3.3,"y":-50.22,"m":7,"c":3},{"x":4.2,"y":-51.25,"m":8,"c":3},{"x":2.55,"y":-52.78,"m":7,"c":3},{"x":3.42,"y":-50.38,"m":7,"c":4},{"x":1.73,"y":-49.7,"m":9,"c":4},{"x":1.65,"y":-51.35,"m":7,"c":4},{"x":3.27,"y":-52.79,"m":6,"c":4},{"x":3.2,"y":-53.23,"m":9,"c":4},{"x":4.84,"y":-51.59,"m":9,"c":4},{"x":0.33,"y":-51.8,"m":10,"c":4},
{"x":5.15,"y":-48.61,"m":8,"c":1},{"x":8.48,"y":-49.06,"m":6,"c":1},{"x":5.85,"y":-49.4,"m":6,"c":1},{"x":6.07,"y":-49.55,"m":7,"c":1},{"x":9.05,"y":-48.64,"m":8,"c":1},{"x":6.41,"y":-48.89,"m":8,"c":1},{"x":9.58,"y":-49.41,"m":7,"c":1},{"x":9.27,"y":-49.93,"m":8,"c":1},{"x":7.58,"y":-49.91,"m":8,"c":1},{"x":6.89,"y":-49.72,"m":8,"c":1},{"x":7.22,"y":-49.74,"m":9,"c":1},{"x":5.0,"y":-50.01,"m":8,"c":1},{"x":5.33,"y":-50.27,"m":8,"c":1},{"x":5.81,"y":-50.06,"m":8,"c":1},{"x":6.35,"y":-50.52,"m":9,"c":1},{"x":7.03,"y":-50.84,"m":8,"c":1},{"x":8.24,"y":-50.53,"m":7,"c":1},{"x":8.33,"y":-50.69,"m":7,"c":1},{"x":5.33,"y":-50.73,"m":8,"c":1},{"x":7.85,"y":-51.12,"m":7,"c":1},{"x":8.25,"y":-51.17,"m":8,"c":1},{"x":8.38,"y":-51.32,"m":8,"c":1},{"x":9.27,"y":-51.18,"m":8,"c":1},{"x":9.55,"y":-50.96,"m":8,"c":1},{"x":9.13,"y":-50.69,"m":8,"c":1},{"x":9.74,"y":-50.58,"m":9,"c":1},{"x":6.36,"y":-51.48,"m":9,"c":1},{"x":7.73,"y":-51.62,"m":8,"c":1},{"x":8.25,"y":-51.52,"m":8,"c":1},{"x":5.96,"y":-52.52,"m":7,"c":1},{"x":8.1,"y":-52.12,"m":7,"c":1},{"x":7.85,"y":-51.94,"m":8,"c":1},{"x":5.36,"y":-52.09,"m":8,"c":1},{"x":9.78,"y":-52.5,"m":7,"c":1},{"x":9.08,"y":-52.73,"m":6,"c":1},{"x":8.58,"y":-52.83,"m":7,"c":1},{"x":8.97,"y":-53.03,"m":7,"c":1},{"x":5.2,"y":-53.38,"m":8,"c":1},{"x":8.13,"y":-53.15,"m":8,"c":1},{"x":6.74,"y":-52.7,"m":8,"c":1},{"x":5.35,"y":-52.93,"m":9,"c":1},{"x":5.74,"y":-52.12,"m":9,"c":1},{"x":6.48,"y":-52.13,"m":9,"c":1},{"x":7.25,"y":-52.18,"m":9,"c":1},{"x":7.92,"y":-52.05,"m":9,"c":1},{"x":9.5,"y":-52.12,"m":9,"c":1},{"x":9.22,"y":-52.47,"m":8,"c":1},{"x":8.77,"y":-52.7,"m":9,"c":1},{"x":6.53,"y":-53.15,"m":9,"c":1},{"x":7.62,"y":-53.18,"m":9,"c":1},{"x":7.25,"y":-51.24,"m":9,"c":1},{"x":6.71,"y":-49.97,"m":9,"c":1},{"x":6.16,"y":-50.3,"m":9,"c":1},{"x":5.8,"y":-50.52,"m":9,"c":1},{"x":5.5,"y":-50.91,"m":9,"c":1},{"x":8.77,"y":-48.82,"m":9,"c":1},{"x":9.56,"y":-48.76,"m":9,"c":1},{"x":8.83,"y":-49.67,"m":9,"c":1},{"x":9.32,"y":-51.55,"m":9,"c":1},{"x":9.86,"y":-50.42,"m":9,"c":1},{"x":6.83,"y":-48.76,"m":9,"c":1},{"x":7.01,"y":-49.42,"m":9,"c":1},{"x":7.41,"y":-48.58,"m":9,"c":1},
{"x":5.73,"y":-48.7,"m":8,"c":0},{"x":7.49,"y":-48.93,"m":8,"c":0},{"x":8.47,"y":-49.33,"m":8,"c":0},{"x":9.09,"y":-49.32,"m":6,"c":0},{"x":5.26,"y":-50.28,"m":7,"c":0},{"x":8.3,"y":-49.98,"m":9,"c":0},{"x":6.22,"y":-51.58,"m":7,"c":0},{"x":8.65,"y":-51.6,"m":8,"c":0},{"x":6.36,"y":-52.47,"m":6,"c":0},{"x":4.99,"y":-52.69,"m":7,"c":0},{"x":5.02,"y":-52.26,"m":8,"c":0},{"x":6.19,"y":-52.03,"m":8,"c":0},{"x":7.22,"y":-52.1,"m":9,"c":0},{"x":8.47,"y":-52.61,"m":7,"c":0},{"x":8.51,"y":-52.64,"m":7,"c":0},{"x":7.1,"y":-53.06,"m":8,"c":0},{"x":9.16,"y":-53.16,"m":7,"c":0},{"x":9.23,"y":-52.52,"m":9,"c":0},{"x":6.51,"y":-49.18,"m":9,"c":0},{"x":6.02,"y":-48.59,"m":9,"c":0},{"x":6.28,"y":-48.94,"m":9,"c":0},{"x":9.18,"y":-49.58,"m":9,"c":0},{"x":5.01,"y":-51.96,"m":9,"c":0},{"x":7.8,"y":-53.09,"m":9,"c":0},
{"x":9.21,"y":-48.98,"m":6,"c":2},{"x":7.56,"y":-50.6,"m":6,"c":2},{"x":8.26,"y":-49.46,"m":7,"c":2},{"x":8.12,"y":-50.35,"m":8,"c":2},{"x":7.42,"y":-50.28,"m":9,"c":2},{"x":7.99,"y":-48.71,"m":9,"c":2},{"x":5.47,"y":-49.56,"m":8,"c":2},{"x":6.13,"y":-49.33,"m":9,"c":2},{"x":6.89,"y":-50.34,"m":9,"c":2},{"x":5.5,"y":-51.02,"m":9,"c":2},{"x":5.08,"y":-51.41,"m":6,"c":2},{"x":7.0,"y":-51.66,"m":8,"c":2},{"x":6.3,"y":-51.78,"m":9,"c":2},{"x":6.27,"y":-52.96,"m":6,"c":2},{"x":5.97,"y":-53.01,"m":8,"c":2},{"x":7.52,"y":-52.65,"m":9,"c":2},{"x":5.02,"y":-52.4,"m":9,"c":2},{"x":7.42,"y":-53.24,"m":9,"c":2},{"x":8.59,"y":-53.29,"m":9,"c":2},{"x":8.44,"y":-53.04,"m":9,"c":2},{"x":6.56,"y":-52.06,"m":10,"c":2},{"x":6.36,"y":-48.55,"m":10,"c":2},{"x":9.15,"y":-49.36,"m":9,"c":2},
{"x":6.67,"y":-49.12,"m":8,"c":3},{"x":5.5,"y":-49.44,"m":9,"c":3},{"x":5.55,"y":-49.99,"m":7,"c":3},{"x":5.5,"y":-52.47,"m":9,"c":3},{"x":8.81,"y":-51.23,"m":8,"c":3},{"x":9.72,"y":-49.42,"m":9,"c":3},
{"x":6.85,"y":-48.9,"m":7,"c":4},{"x":9.28,"y":-48.53,"m":8,"c":4},{"x":7.73,"y":-49.38,"m":8,"c":4},{"x":8.38,"y":-49.06,"m":10,"c":4},{"x":5.52,"y":-51.33,"m":6,"c":4},{"x":7.15,"y":-51.89,"m":6,"c":4},{"x":8.99,"y":-51.75,"m":7,"c":4},{"x":8.98,"y":-52.36,"m":8,"c":4},{"x":6.25,"y":-53.3,"m":9,"c":4},{"x":9.51,"y":-53.41,"m":8,"c":4},
{"x":0.42,"y":-44.18,"m":11,"c":1},{"x":1.34,"y":-44.18,"m":11,"c":1},{"x":1.89,"y":-44.36,"m":11,"c":1},{"x":2.8,"y":-44.67,"m":11,"c":1},{"x":3.83,"y":-44.18,"m":11,"c":1},{"x":4.13,"y":-43.88,"m":11,"c":1},{"x":4.5,"y":-44.06,"m":11,"c":1},{"x":4.07,"y":-44.67,"m":11,"c":1},{"x":0.62,"y":-44.36,"m":11,"c":1},{"x":0.07,"y":-44.79,"m":11,"c":1},{"x":1.77,"y":-44.91,"m":11,"c":1},{"x":2.68,"y":-44.91,"m":11,"c":1},{"x":3.28,"y":-45.33,"m":11,"c":1},{"x":4.13,"y":-45.27,"m":11,"c":1},{"x":0.74,"y":-46.0,"m":11,"c":1},{"x":1.28,"y":-46.0,"m":11,"c":1},{"x":1.22,"y":-46.42,"m":11,"c":1},{"x":0.8,"y":-47.03,"m":11,"c":1},{"x":1.1,"y":-47.15,"m":11,"c":1},{"x":0.92,"y":-48.06,"m":11,"c":1},{"x":2.98,"y":-47.7,"m":11,"c":1},{"x":3.77,"y":-48.12,"m":11,"c":1},{"x":4.62,"y":-47.94,"m":11,"c":1},{"x":4.13,"y":-46.42,"m":11,"c":1},{"x":3.83,"y":-46.61,"m":11,"c":1},
{"x":5.31,"y":-43.82,"m":11,"c":1},{"x":6.35,"y":-43.88,"m":11,"c":1},{"x":6.71,"y":-44.24,"m":11,"c":1},{"x":7.31,"y":-43.82,"m":11,"c":1},{"x":8.04,"y":-44.24,"m":11,"c":1},{"x":8.65,"y":-44.18,"m":11,"c":1},{"x":9.5,"y":-44.12,"m":11,"c":1},{"x":5.68,"y":-44.79,"m":11,"c":1},{"x":6.28,"y":-44.73,"m":11,"c":1},{"x":7.86,"y":-45.21,"m":11,"c":1},{"x":8.53,"y":-44.79,"m":11,"c":1},{"x":9.07,"y":-45.27,"m":11,"c":1},{"x":9.56,"y":-44.97,"m":11,"c":1},{"x":5.25,"y":-45.27,"m":11,"c":1},{"x":5.92,"y":-45.27,"m":11,"c":1},{"x":5.5,"y":-46.36,"m":11,"c":1},{"x":6.16,"y":-46.61,"m":11,"c":1},{"x":8.53,"y":-46.55,"m":11,"c":1},{"x":9.01,"y":-46.73,"m":11,"c":1},{"x":9.68,"y":-46.49,"m":11,"c":1},{"x":5.31,"y":-47.09,"m":11,"c":1},{"x":5.86,"y":-47.33,"m":11,"c":1},{"x":8.53,"y":-47.64,"m":11,"c":1},{"x":9.13,"y":-47.33,"m":11,"c":1},{"x":6.71,"y":-48.24,"m":11,"c":1},
{"x":0.19,"y":-48.64,"m":11,"c":1},{"x":0.68,"y":-48.7,"m":11,"c":1},{"x":1.16,"y":-48.7,"m":11,"c":1},{"x":0.62,"y":-49.79,"m":11,"c":1},{"x":0.86,"y":-50.03,"m":11,"c":1},{"x":0.25,"y":-50.27,"m":11,"c":1},{"x":1.28,"y":-50.39,"m":11,"c":1},{"x":0.8,"y":-50.88,"m":11,"c":1},{"x":0.13,"y":-51.18,"m":11,"c":1},{"x":0.62,"y":-51.49,"m":11,"c":1},{"x":1.95,"y":-51.61,"m":11,"c":1},{"x":2.68,"y":-51.18,"m":11,"c":1},{"x":2.8,"y":-50.27,"m":11,"c":1},{"x":3.53,"y":-50.52,"m":11,"c":1},{"x":4.01,"y":-50.76,"m":11,"c":1},{"x":4.56,"y":-51.48,"m":11,"c":1},{"x":0.68,"y":-52.33,"m":11,"c":1},{"x":1.28,"y":-52.21,"m":11,"c":1},{"x":1.83,"y":-52.64,"m":11,"c":1},{"x":2.44,"y":-52.27,"m":11,"c":1},{"x":4.01,"y":-52.09,"m":11,"c":1},{"x":4.74,"y":-52.39,"m":11,"c":1},{"x":0.62,"y":-53.18,"m":11,"c":1},{"x":2.01,"y":-53.18,"m":11,"c":1},{"x":4.25,"y":-53.18,"m":11,"c":1},
{"x":5.8,"y":-48.82,"m":11,"c":1},{"x":6.47,"y":-49.06,"m":11,"c":1},{"x":7.19,"y":-49.18,"m":11,"c":1},{"x":8.65,"y":-48.94,"m":11,"c":1},{"x":9.5,"y":-49.06,"m":11,"c":1},{"x":5.25,"y":-49.67,"m":11,"c":1},{"x":8.77,"y":-50.15,"m":11,"c":1},{"x":9.5,"y":-50.21,"m":11,"c":1},{"x":6.35,"y":-50.88,"m":11,"c":1},{"x":7.44,"y":-50.76,"m":11,"c":1},{"x":5.25,"y":-51.06,"m":11,"c":1},{"x":5.8,"y":-51.36,"m":11,"c":1},{"x":6.71,"y":-51.3,"m":11,"c":1},{"x":7.44,"y":-51.49,"m":11,"c":1},{"x":8.65,"y":-51.12,"m":11,"c":1},{"x":9.68,"y":-51.49,"m":11,"c":1},{"x":5.25,"y":-51.97,"m":11,"c":1},{"x":5.8,"y":-52.33,"m":11,"c":1},{"x":6.47,"y":-52.46,"m":11,"c":1},{"x":7.92,"y":-52.58,"m":11,"c":1},{"x":8.83,"y":-52.33,"m":11,"c":1},{"x":9.5,"y":-52.82,"m":11,"c":1},{"x":5.68,"y":-53.18,"m":11,"c":1},{"x":6.71,"y":-53.06,"m":11,"c":1},{"x":8.04,"y":-52.94,"m":11,"c":1}],
"bars":[{"y0":3.12,"y1":46.79},{"y0":53.03,"y1":96.88}],
"mags":[{"y":8.26,"m":0,"t":"0"},{"y":13.94,"m":2,"t":"2"},{"y":19.82,"m":4,"t":"4"},{"y":25.5,"m":6,"t":"6"},{"y":31.19,"m":8,"t":"8"},{"y":36.7,"m":10,"t":"10"},{"y":42.39,"m":12,"t":"12"}],
"temps":[{"y":57.25,"c":4,"t":"> 4"},{"y":66.42,"c":3,"t":"3-4"},{"y":75.05,"c":2,"t":"2-3"},{"y":83.85,"c":1,"t":"0-2"},{"y":92.48,"c":0,"t":"< 0"}]
},
"hconcat":[
{"title":{"text":"Reddening: E(B−V)","offset":6},"width":545,"height":545,"view":{"fill":"#0808f8","stroke":"#000","strokeWidth":2},
"encoding":{"x":{"field":"x","type":"quantitative","scale":{"domain":[0,9.91],"nice":false,"zero":false},"axis":{"values":[2.56,8.47],"labelExpr":"datum.value<5?'4ʰ20ᵐ':'3ʰ40ᵐ00ˢ'","title":"R.A. (2000)","labelPadding":5,"titlePadding":2}},"y":{"field":"y","type":"quantitative","scale":{"domain":[-53.455,-43.545],"nice":false,"zero":false},"axis":{"values":[-44,-46,-48,-50,-52],"labelExpr":"'−'+abs(datum.value)+'°'","title":"Dec. (2000)","labelPadding":6,"titlePadding":2}}},
"layer":[
{"data":{"name":"dark"},"mark":{"type":"circle","color":"#0000b0","opacity":0.1,"clip":true},"encoding":{"size":{"field":"s","type":"quantitative","scale":null}}},
{"data":{"name":"dust"},"mark":{"type":"circle","color":"#3a90f5","opacity":0.38,"clip":true},"encoding":{"size":{"field":"s","type":"quantitative","scale":null}}},
{"data":{"name":"contour"},"mark":{"type":"line","color":"#a8a8f0","strokeWidth":1.8,"opacity":0.9,"order":null,"interpolate":"catmull-rom","clip":true},"encoding":{"detail":{"field":"id"}}},
{"data":{"name":"grid"},"mark":{"type":"line","color":"#dcdcff","strokeWidth":1.2,"order":null,"interpolate":"catmull-rom","clip":true},"encoding":{"detail":{"field":"id"}}},
{"data":{"name":"ecl"},"mark":{"type":"line","color":"#cc0028","strokeWidth":1.2,"order":null,"interpolate":"catmull-rom","clip":true},"encoding":{"detail":{"field":"id"}}},
{"data":{"name":"clabels"},"mark":{"type":"text","color":"#a8a8f0","fontSize":14,"clip":true},"encoding":{"text":{"field":"t"},"angle":{"field":"a","type":"quantitative","scale":null}}},
{"data":{"values":[{"x":8.35,"y":-47.6,"t":"−64°","a":25},{"x":3.11,"y":-48.73,"t":"60","a":-55},{"x":6.31,"y":-50.64,"t":"30","a":-55},{"x":6.07,"y":-50.91,"t":"62","a":25},{"x":9.2,"y":-52.96,"t":"20","a":-55}]},"mark":{"type":"text","color":"#e0002c","fontSize":11},"encoding":{"text":{"field":"t"},"angle":{"field":"a","type":"quantitative","scale":null}}},
{"data":{"name":"rubin"},"mark":{"type":"line","color":"#00e600","strokeWidth":2.6,"strokeDash":[10,6],"order":null},"encoding":{"detail":{"field":"id"}}},
{"data":{"name":"stadium"},"mark":{"type":"line","color":"#ffcc00","strokeWidth":2.6,"order":null}},
{"data":{"values":[{"x":6.87,"x2":7.56,"y":-52.22,"y2":-52.93}]},"mark":{"type":"rect","fill":"#ffffff","fillOpacity":0.3,"stroke":"#c8c8ff","strokeWidth":1},"encoding":{"x2":{"field":"x2"},"y2":{"field":"y2"}}},
{"data":{"values":[{"x":0.09,"y":-45.02,"t":"EDF-South"}]},"mark":{"type":"text","color":"#ffcc00","fontSize":17,"fontWeight":"bold","align":"left"},"encoding":{"text":{"field":"t"}}},
{"data":{"values":[{"x":0.09,"y":-45.71,"t":"23 deg.²: stadium"}]},"mark":{"type":"text","color":"#ffcc00","fontSize":12.5,"fontWeight":"bold","align":"left"},"encoding":{"text":{"field":"t"}}},
{"data":{"values":[{"x":4.09,"y":-45.69,"t":"Rubin−b 9.6 deg.²"},{"x":7.13,"y":-47.36,"t":"Rubin−a 9.6 deg.²"}]},"mark":{"type":"text","color":"#00d000","fontSize":10,"fontWeight":"bold","align":"left"},"encoding":{"text":{"field":"t"}}},
{"data":{"values":[{"x":7.2,"y":-52.56,"t":"0.5 deg.²"},{"x":7.22,"y":-53.0,"t":"Euclid FOV"}]},"mark":{"type":"text","color":"#ffffff","fontSize":7,"fontWeight":"bold"},"encoding":{"text":{"field":"t"}}},
{"data":{"values":[{"x":4.95,"y":-43.24,"t":"Ecliptic"}]},"mark":{"type":"text","color":"#ff0000","fontSize":13},"encoding":{"text":{"field":"t"}}}
]},
{"width":16,"height":545,"view":{"stroke":null},"data":{"values":[{"lo":0,"hi":0.18}]},"mark":{"type":"rect","stroke":"#000","strokeWidth":1,"color":{"gradient":"linear","x1":0,"y1":1,"x2":0,"y2":0,"stops":[{"offset":0,"color":"#00007f"},{"offset":0.11,"color":"#0000ff"},{"offset":0.36,"color":"#00ffff"},{"offset":0.5,"color":"#7fff7f"},{"offset":0.64,"color":"#ffff00"},{"offset":0.89,"color":"#ff0000"},{"offset":1,"color":"#7f0000"}]}},"encoding":{"y":{"field":"lo","type":"quantitative","scale":{"domain":[-0.02985,0.2094],"nice":false,"zero":false},"axis":{"orient":"right","values":[0,0.02,0.04,0.06,0.08,0.1,0.12,0.14,0.16,0.18],"format":".2~f","title":"E(B−V)","titleAngle":270,"ticks":true,"tickSize":3,"tickColor":"#000","labelPadding":3,"labelFontSize":12,"titlePadding":17}},"y2":{"field":"hi"}}},
{"width":97,"height":545,"view":{"stroke":null},"data":{"values":[]},"mark":{"type":"point","opacity":0},"encoding":{}},
{"title":{"text":"Field stars properties","offset":29,"dx":-5},"width":546,"height":545,"view":{"fill":"#414141","stroke":"#000","strokeWidth":2},
"encoding":{"x":{"field":"x","type":"quantitative","scale":{"domain":[0,9.93],"nice":false,"zero":false},"axis":{"values":[2.56,5.53,8.47],"labelExpr":"datum.value<3?'4ʰ20ᵐ':(datum.value<6?'4ʰ00ᵐ00ˢ':'3ʰ40ᵐ')","title":"R.A. (2000)","labelPadding":5,"titlePadding":2}},"y":{"field":"y","type":"quantitative","scale":{"domain":[-53.455,-43.545],"nice":false,"zero":false},"axis":{"values":[-44,-46,-48,-50,-52],"labelExpr":"'−'+abs(datum.value)+'°'","title":"Dec. (2000)","labelPadding":6,"titlePadding":2}}},
"layer":[
{"data":{"name":"stars"},"mark":{"type":"circle","opacity":1,"clip":true},"encoding":{"size":{"field":"m","type":"quantitative","legend":null,"scale":{"domain":[0,2,4,6,8,10,12],"range":[60,42,28,17,12.5,5,1]}},"color":{"field":"c","type":"nominal","legend":null,"scale":{"domain":[0,1,2,3,4],"range":["#00e8f0","#ffffff","#ffd000","#ff6600","#ff0000"]}}}},
{"data":{"name":"grid"},"mark":{"type":"line","color":"#8c8c8c","strokeWidth":1.5,"order":null,"interpolate":"catmull-rom","clip":true},"encoding":{"detail":{"field":"id"}}},
{"data":{"name":"rubin"},"mark":{"type":"line","color":"#00e600","strokeWidth":2.6,"strokeDash":[10,6],"order":null},"encoding":{"detail":{"field":"id"}}},
{"data":{"name":"stadium"},"mark":{"type":"line","color":"#ff00e6","strokeWidth":2.8,"order":null}},
{"data":{"values":[{"x":6.87,"x2":7.56,"y":-52.22,"y2":-52.93}]},"mark":{"type":"rect","fill":"#ffffff","fillOpacity":0.3,"stroke":"#b0b0b0","strokeWidth":1.5},"encoding":{"x2":{"field":"x2"},"y2":{"field":"y2"}}},
{"data":{"values":[{"x":7.2,"y":-52.56,"t":"0.5 deg.²"},{"x":7.22,"y":-53.0,"t":"Euclid FOV"}]},"mark":{"type":"text","color":"#e8e8e8","fontSize":7,"fontWeight":"bold"},"encoding":{"text":{"field":"t"}}}
]},
{"width":50,"height":545,"view":{"stroke":null},
"encoding":{"y":{"field":"y","type":"quantitative","scale":{"domain":[100,0],"nice":false,"zero":false},"axis":null}},
"layer":[
{"data":{"name":"bars"},"mark":{"type":"rect","color":"#414141"},"encoding":{"x":{"datum":0,"type":"quantitative","scale":{"domain":[0,100],"nice":false,"zero":false},"axis":null},"x2":{"datum":30},"y":{"field":"y0","type":"quantitative"},"y2":{"field":"y1"}}},
{"data":{"name":"mags"},"mark":{"type":"circle","color":"#ffffff","opacity":1},"encoding":{"x":{"datum":15,"type":"quantitative","axis":null},"size":{"field":"m","type":"quantitative","legend":null,"scale":{"domain":[0,2,4,6,8,10,12],"range":[60,42,28,17,12.5,5,1]}}}},
{"data":{"name":"mags"},"mark":{"type":"text","color":"#333","fontSize":12},"encoding":{"x":{"datum":54,"type":"quantitative","axis":null},"text":{"field":"t"}}},
{"data":{"name":"temps"},"mark":{"type":"circle","opacity":1,"size":90},"encoding":{"x":{"datum":15,"type":"quantitative","axis":null},"color":{"field":"c","type":"nominal","legend":null,"scale":{"domain":[0,1,2,3,4],"range":["#00e8f0","#ffffff","#ffd000","#ff6600","#ff0000"]}}}},
{"data":{"name":"temps"},"mark":{"type":"text","color":"#333","fontSize":12,"align":"left"},"encoding":{"x":{"datum":40,"type":"quantitative","axis":null},"text":{"field":"t"}}},
{"data":{"values":[{"x":104,"y":25.7,"t":"Magnitude (J-band)"},{"x":104,"y":74.9,"t":"Hottest stars (J−Ks)"}]},"mark":{"type":"text","color":"#222","fontSize":13,"angle":270,"clip":true},"encoding":{"x":{"field":"x","type":"quantitative","axis":null},"text":{"field":"t"}}}
]}
]}
